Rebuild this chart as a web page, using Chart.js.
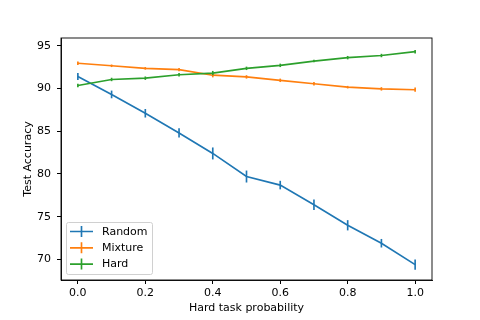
<!DOCTYPE html>
<html>
<head>
<meta charset="utf-8">
<style>
  html, body { margin: 0; padding: 0; background: #fff; }
  #wrap { position: relative; width: 480px; height: 320px; }
</style>
<script src="https://cdn.jsdelivr.net/npm/chart.js@4/dist/chart.umd.min.js"></script>
</head>
<body>
<div id="wrap"><canvas id="chart" width="480" height="320"></canvas></div>
<script>
  // ── data ─────────────────────────────────────────────────────────────────
  var PROBS = [0.0, 0.1, 0.2, 0.3, 0.4, 0.5, 0.6, 0.7, 0.8, 0.9, 1.0];
  var RANDOM = [91.4, 89.3, 87.1, 84.8, 82.4, 79.7, 78.7, 76.4, 74.0, 71.9, 69.4];
  var RANDOM_ERR = [0.4, 0.45, 0.5, 0.55, 0.7, 0.7, 0.5, 0.6, 0.6, 0.5, 0.6];
  var MIXTURE = [92.95, 92.65, 92.35, 92.2, 91.55, 91.35, 90.95, 90.55, 90.15, 89.95, 89.85];
  var MIXTURE_ERR = [0.2, 0.15, 0.15, 0.2, 0.25, 0.2, 0.2, 0.2, 0.15, 0.2, 0.25];
  var HARD = [90.35, 91.05, 91.2, 91.6, 91.8, 92.35, 92.7, 93.2, 93.6, 93.85, 94.3];
  var HARD_ERR = [0.2, 0.2, 0.2, 0.2, 0.25, 0.2, 0.2, 0.15, 0.2, 0.2, 0.2];
  var X_TICKS = [0.0, 0.2, 0.4, 0.6, 0.8, 1.0];
  var Y_TICKS = [70, 75, 80, 85, 90, 95];

  var FONT = 'DejaVu Sans';
  var FONT_SIZE = 11;
  var LINE_W = 1.65;
  var COLORS = { random: '#1f77b4', mixture: '#ff7f0e', hard: '#2ca02c' };

  function points(ys) {
    return PROBS.map(function (x, i) { return { x: x, y: ys[i] }; });
  }

  // vertical error bars, drawn through the chart's own scales
  var errorBars = {
    id: 'errorBars',
    afterDatasetDraw: function (chart, args) {
      var ds = chart.data.datasets[args.index];
      if (!ds.errors) return;
      var xs = chart.scales.x, ys = chart.scales.y, ctx = chart.ctx;
      ctx.save();
      ctx.strokeStyle = ds.borderColor;
      ctx.lineWidth = LINE_W;
      ds.data.forEach(function (p, i) {
        var px = xs.getPixelForValue(p.x);
        ctx.beginPath();
        ctx.moveTo(px, ys.getPixelForValue(p.y - ds.errors[i]));
        ctx.lineTo(px, ys.getPixelForValue(p.y + ds.errors[i]));
        ctx.stroke();
      });
      ctx.restore();
    }
  };

  // matplotlib-style frame and legend box in the lower-left corner
  var frameAndLegend = {
    id: 'frameAndLegend',
    afterDraw: function (chart) {
      var a = chart.chartArea, ctx = chart.ctx;
      ctx.save();
      ctx.strokeStyle = '#000';
      ctx.lineWidth = 0.9;
      ctx.strokeRect(a.left, a.top, a.right - a.left, a.bottom - a.top);

      var items = chart.data.datasets.slice();
      var bx = a.left + 5, bw = 86, bh = 52;
      var by = a.bottom - 6 - bh;
      ctx.fillStyle = 'rgba(255,255,255,0.8)';
      ctx.strokeStyle = '#d0d0d0';
      ctx.lineWidth = 1;
      ctx.beginPath();
      ctx.roundRect(bx + 0.5, by + 0.5, bw, bh, 2);
      ctx.fill();
      ctx.stroke();

      ctx.font = FONT_SIZE + 'px "' + FONT + '"';
      ctx.textBaseline = 'middle';
      ctx.textAlign = 'left';
      items.forEach(function (ds, i) {
        var y = by + 9.5 + i * 16.3;
        ctx.strokeStyle = ds.borderColor;
        ctx.lineWidth = LINE_W;
        ctx.beginPath();
        ctx.moveTo(bx + 4, y);
        ctx.lineTo(bx + 27, y);
        ctx.moveTo(bx + 15.5, y - 5.5);
        ctx.lineTo(bx + 15.5, y + 5.5);
        ctx.stroke();
        ctx.fillStyle = '#000';
        ctx.fillText(ds.label, bx + 36, y + 0.5);
      });
      ctx.restore();
    }
  };

  function makeDataset(label, ys, errs, color, order) {
    return {
      label: label,
      data: points(ys),
      errors: errs,
      borderColor: color,
      backgroundColor: color,
      borderWidth: LINE_W,
      pointRadius: 0,
      tension: 0,
      order: order
    };
  }

  new Chart(document.getElementById('chart'), {
    type: 'line',
    data: {
      datasets: [
        makeDataset('Random', RANDOM, RANDOM_ERR, COLORS.random, 3),
        makeDataset('Mixture', MIXTURE, MIXTURE_ERR, COLORS.mixture, 2),
        makeDataset('Hard', HARD, HARD_ERR, COLORS.hard, 1)
      ]
    },
    plugins: [errorBars, frameAndLegend],
    options: {
      responsive: false,
      animation: false,
      layout: { padding: { left: 18, right: 48, top: 38, bottom: 0 } },
      plugins: { legend: { display: false }, tooltip: { enabled: false } },
      scales: {
        x: {
          type: 'linear',
          min: -0.05,
          max: 1.05,
          afterBuildTicks: function (s) { s.ticks = X_TICKS.map(function (v) { return { value: v }; }); },
          afterFit: function (s) { s.height = 40; },
          grid: { drawOnChartArea: false, drawTicks: true, tickLength: 4, color: '#000' },
          border: { display: true, color: '#000', width: 0.9 },
          ticks: {
            color: '#000', padding: 3, maxRotation: 0,
            font: { family: FONT, size: FONT_SIZE },
            callback: function (v) { return Number(v).toFixed(1); }
          },
          title: {
            display: true, text: 'Hard task probability', color: '#000',
            font: { family: FONT, size: FONT_SIZE }, padding: { top: 4, bottom: 5 }
          }
        },
        y: {
          type: 'linear',
          min: 67.6,
          max: 95.9,
          afterBuildTicks: function (s) { s.ticks = Y_TICKS.map(function (v) { return { value: v }; }); },
          afterFit: function (s) { s.width = 43; },
          grid: { drawOnChartArea: false, drawTicks: true, tickLength: 4, color: '#000' },
          border: { display: true, color: '#000', width: 0.9 },
          ticks: { color: '#000', padding: 6, font: { family: FONT, size: FONT_SIZE } },
          title: {
            display: true, text: 'Test Accuracy', color: '#000',
            font: { family: FONT, size: FONT_SIZE }, padding: { top: 4, bottom: 4 }
          }
        }
      }
    }
  });
</script>
</body>
</html>
